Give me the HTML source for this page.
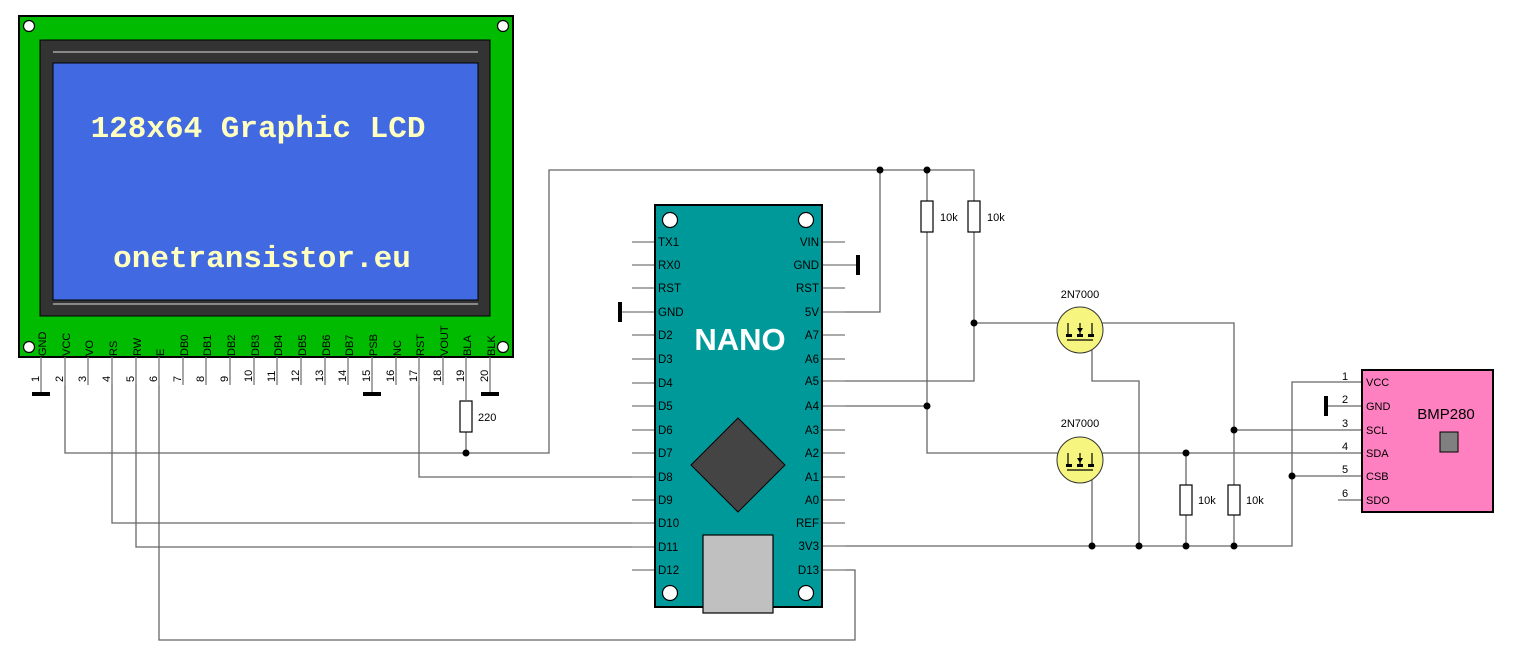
<!DOCTYPE html>
<html><head><meta charset="utf-8"><style>
html,body{margin:0;padding:0;background:#fff}
svg{display:block}
text{font-family:"Liberation Sans",Arial,sans-serif}
</style></head><body>
<svg width="1516" height="668" viewBox="0 0 1516 668" xmlns="http://www.w3.org/2000/svg">
<!-- LCD -->
<rect x="19" y="16" width="494" height="341" fill="#00BB00" stroke="#000" stroke-width="2"/>
<g fill="#fff" stroke="#000" stroke-width="1.2">
<circle cx="29" cy="26" r="5.5"/><circle cx="503" cy="26" r="5.5"/><circle cx="29" cy="347" r="5.5"/><circle cx="503" cy="347" r="5.5"/>
</g>
<rect x="40" y="40" width="450" height="276" fill="#333" stroke="#000" stroke-width="1"/>
<line x1="53" y1="52" x2="478" y2="52" stroke="#888" stroke-width="2"/>
<line x1="53" y1="304" x2="478" y2="304" stroke="#888" stroke-width="2"/>
<rect x="53" y="63" width="425" height="237" fill="#4169E1" stroke="#000" stroke-width="1"/>
<text x="258" y="137" text-anchor="middle" font-family="Liberation Mono,monospace" font-weight="bold" font-size="31" fill="#FFFFC0" style="font-family:'Liberation Mono',monospace">128x64 Graphic LCD</text>
<text x="262" y="267" text-anchor="middle" font-weight="bold" font-size="31" fill="#FFFFC0" style="font-family:'Liberation Mono',monospace">onetransistor.eu</text>

<!-- LCD pins -->
<g stroke="#777" stroke-width="1.3">
<line x1="41" y1="357" x2="41" y2="394"/><line x1="65" y1="357" x2="65" y2="385"/><line x1="88" y1="357" x2="88" y2="385"/><line x1="112" y1="357" x2="112" y2="385"/><line x1="136" y1="357" x2="136" y2="385"/><line x1="159" y1="357" x2="159" y2="385"/><line x1="183" y1="357" x2="183" y2="385"/><line x1="206" y1="357" x2="206" y2="385"/><line x1="230" y1="357" x2="230" y2="385"/><line x1="254" y1="357" x2="254" y2="385"/><line x1="277" y1="357" x2="277" y2="385"/><line x1="301" y1="357" x2="301" y2="385"/><line x1="325" y1="357" x2="325" y2="385"/><line x1="348" y1="357" x2="348" y2="385"/><line x1="372" y1="357" x2="372" y2="394"/><line x1="396" y1="357" x2="396" y2="385"/><line x1="419" y1="357" x2="419" y2="385"/><line x1="443" y1="357" x2="443" y2="385"/><line x1="466" y1="357" x2="466" y2="400"/><line x1="490" y1="357" x2="490" y2="394"/>
</g>
<g stroke="#000" stroke-width="4">
<line x1="32" y1="394" x2="50" y2="394"/><line x1="363" y1="394" x2="381" y2="394"/><line x1="481" y1="394" x2="499" y2="394"/>
</g>
<g font-size="11" fill="#000">
<text transform="translate(46,356) rotate(-90)">GND</text>
<text transform="translate(70,356) rotate(-90)">VCC</text>
<text transform="translate(93,356) rotate(-90)">VO</text>
<text transform="translate(117,356) rotate(-90)">RS</text>
<text transform="translate(141,356) rotate(-90)">RW</text>
<text transform="translate(164,356) rotate(-90)">E</text>
<text transform="translate(188,356) rotate(-90)">DB0</text>
<text transform="translate(211,356) rotate(-90)">DB1</text>
<text transform="translate(235,356) rotate(-90)">DB2</text>
<text transform="translate(259,356) rotate(-90)">DB3</text>
<text transform="translate(282,356) rotate(-90)">DB4</text>
<text transform="translate(306,356) rotate(-90)">DB5</text>
<text transform="translate(330,356) rotate(-90)">DB6</text>
<text transform="translate(353,356) rotate(-90)">DB7</text>
<text transform="translate(377,356) rotate(-90)">PSB</text>
<text transform="translate(401,356) rotate(-90)">NC</text>
<text transform="translate(424,356) rotate(-90)">RST</text>
<text transform="translate(448,356) rotate(-90)">VOUT</text>
<text transform="translate(471,356) rotate(-90)">BLA</text>
<text transform="translate(495,356) rotate(-90)">BLK</text>
</g>
<g font-size="11" fill="#000">
<text transform="translate(39,382) rotate(-90)">1</text>
<text transform="translate(63,382) rotate(-90)">2</text>
<text transform="translate(86,382) rotate(-90)">3</text>
<text transform="translate(110,382) rotate(-90)">4</text>
<text transform="translate(134,382) rotate(-90)">5</text>
<text transform="translate(157,382) rotate(-90)">6</text>
<text transform="translate(181,382) rotate(-90)">7</text>
<text transform="translate(204,382) rotate(-90)">8</text>
<text transform="translate(228,382) rotate(-90)">9</text>
<text transform="translate(252,382) rotate(-90)">10</text>
<text transform="translate(275,382) rotate(-90)">11</text>
<text transform="translate(299,382) rotate(-90)">12</text>
<text transform="translate(323,382) rotate(-90)">13</text>
<text transform="translate(346,382) rotate(-90)">14</text>
<text transform="translate(370,382) rotate(-90)">15</text>
<text transform="translate(394,382) rotate(-90)">16</text>
<text transform="translate(417,382) rotate(-90)">17</text>
<text transform="translate(441,382) rotate(-90)">18</text>
<text transform="translate(464,382) rotate(-90)">19</text>
<text transform="translate(488,382) rotate(-90)">20</text>
</g>

<!-- wires -->
<g fill="none" stroke="#666" stroke-width="1.3">
<polyline points="65,385 65,453 549,453 549,170 974,170 974,381 845,381"/>
<line x1="466" y1="432" x2="466" y2="453"/>
<polyline points="112,385 112,523 632,523"/>
<polyline points="136,385 136,547 632,547"/>
<polyline points="159,385 159,640 855,640 855,570 845,570"/>
<polyline points="419,385 419,477 632,477"/>
<polyline points="845,312 880,312 880,170"/>
<polyline points="927,170 927,453 1362,453"/>
<line x1="845" y1="406" x2="927" y2="406"/>
<polyline points="974,323 1234,323 1234,546"/>
<polyline points="1092,350 1092,381 1139,381 1139,546"/>
<line x1="1092" y1="473" x2="1092" y2="546"/>
<polyline points="845,546 1292,546 1292,382 1362,382"/>
<line x1="1234" y1="430" x2="1362" y2="430"/>
<line x1="1292" y1="476" x2="1362" y2="476"/>
<line x1="1186" y1="453" x2="1186" y2="546"/>
<line x1="1326" y1="406" x2="1362" y2="406"/>
<line x1="1338" y1="500" x2="1362" y2="500"/>
</g>
<!-- resistors -->
<g fill="#fff" stroke="#000" stroke-width="1.2">
<rect x="460" y="401" width="12" height="31"/>
<rect x="921" y="201" width="12" height="31"/>
<rect x="968" y="201" width="12" height="31"/>
<rect x="1180" y="485" width="12" height="30"/>
<rect x="1228" y="485" width="12" height="30"/>
</g>
<g font-size="11" fill="#000">
<text x="478" y="421">220</text>
<text x="940" y="221">10k</text>
<text x="987" y="221">10k</text>
<text x="1198" y="504">10k</text>
<text x="1246" y="504">10k</text>
</g>
<!-- junctions -->
<g fill="#000">
<circle cx="466" cy="453" r="3.5"/><circle cx="880" cy="170" r="3.5"/><circle cx="927" cy="170" r="3.5"/>
<circle cx="974" cy="323" r="3.5"/><circle cx="927" cy="406" r="3.5"/>
<circle cx="1186" cy="453" r="3.5"/><circle cx="1234" cy="430" r="3.5"/><circle cx="1292" cy="476" r="3.5"/>
<circle cx="1092" cy="546" r="3.5"/><circle cx="1139" cy="546" r="3.5"/><circle cx="1186" cy="546" r="3.5"/><circle cx="1234" cy="546" r="3.5"/>
</g>

<!-- MOSFETs -->
<g>
<circle cx="1080" cy="330" r="23" fill="#F5F580" stroke="#333" stroke-width="1"/>
<g stroke="#000" stroke-width="1.2" fill="none"><polyline points="1068,323 1068,336"/><polyline points="1092,323 1092,336"/><line x1="1080" y1="323" x2="1080" y2="336"/><line x1="1067" y1="340" x2="1093" y2="340"/></g>
<g fill="#000"><rect x="1066" y="334" width="6" height="3"/><rect x="1077" y="334" width="6" height="3"/><rect x="1088" y="334" width="6" height="3"/><polygon points="1077,328 1083,328 1080,333"/></g>
<text x="1080" y="298" text-anchor="middle" font-size="11">2N7000</text>
<circle cx="1080" cy="460" r="23" fill="#F5F580" stroke="#333" stroke-width="1"/>
<g stroke="#000" stroke-width="1.2" fill="none"><polyline points="1068,453 1068,466"/><polyline points="1092,453 1092,466"/><line x1="1080" y1="453" x2="1080" y2="466"/><line x1="1067" y1="470" x2="1093" y2="470"/></g>
<g fill="#000"><rect x="1066" y="464" width="6" height="3"/><rect x="1077" y="464" width="6" height="3"/><rect x="1088" y="464" width="6" height="3"/><polygon points="1077,458 1083,458 1080,463"/></g>
<text x="1080" y="427" text-anchor="middle" font-size="11">2N7000</text>
</g>

<!-- NANO -->
<g stroke="#777" stroke-width="1.3">
<line x1="632" y1="242" x2="655" y2="242"/><line x1="632" y1="265" x2="655" y2="265"/><line x1="632" y1="288" x2="655" y2="288"/><line x1="620" y1="312" x2="655" y2="312"/><line x1="632" y1="335" x2="655" y2="335"/><line x1="632" y1="359" x2="655" y2="359"/><line x1="632" y1="383" x2="655" y2="383"/><line x1="632" y1="406" x2="655" y2="406"/><line x1="632" y1="430" x2="655" y2="430"/><line x1="632" y1="453" x2="655" y2="453"/><line x1="632" y1="477" x2="655" y2="477"/><line x1="632" y1="500" x2="655" y2="500"/><line x1="632" y1="523" x2="655" y2="523"/><line x1="632" y1="547" x2="655" y2="547"/><line x1="632" y1="570" x2="655" y2="570"/>
<line x1="822" y1="242" x2="845" y2="242"/><line x1="822" y1="265" x2="858" y2="265"/><line x1="822" y1="288" x2="845" y2="288"/><line x1="822" y1="312" x2="845" y2="312"/><line x1="822" y1="335" x2="845" y2="335"/><line x1="822" y1="359" x2="845" y2="359"/><line x1="822" y1="381" x2="845" y2="381"/><line x1="822" y1="406" x2="845" y2="406"/><line x1="822" y1="430" x2="845" y2="430"/><line x1="822" y1="453" x2="845" y2="453"/><line x1="822" y1="477" x2="845" y2="477"/><line x1="822" y1="500" x2="845" y2="500"/><line x1="822" y1="523" x2="845" y2="523"/><line x1="822" y1="546" x2="845" y2="546"/><line x1="822" y1="570" x2="845" y2="570"/>
</g>
<g stroke="#000" stroke-width="4"><line x1="620" y1="302" x2="620" y2="322"/><line x1="858" y1="255" x2="858" y2="275"/><line x1="1326" y1="396" x2="1326" y2="416"/></g>
<rect x="655" y="205" width="167" height="402" fill="#00999A" stroke="#000" stroke-width="2"/>
<g fill="#fff" stroke="#000" stroke-width="1.2">
<circle cx="670" cy="220" r="7.5"/><circle cx="806" cy="220" r="7.5"/><circle cx="670" cy="593" r="7.5"/><circle cx="806" cy="593" r="7.5"/>
</g>
<text x="740" y="350" text-anchor="middle" font-size="31" font-weight="bold" fill="#fff">NANO</text>
<polygon points="738,418 785,465 738,512 691,465" fill="#444" stroke="#000" stroke-width="1"/>
<rect x="703" y="535" width="70" height="78" fill="#C0C0C0" stroke="#000" stroke-width="1.2"/>
<g font-size="11.5" fill="#000">
<text x="658" y="246">TX1</text><text x="658" y="269">RX0</text><text x="658" y="292">RST</text><text x="658" y="316">GND</text><text x="658" y="339">D2</text><text x="658" y="363">D3</text><text x="658" y="387">D4</text><text x="658" y="410">D5</text><text x="658" y="434">D6</text><text x="658" y="457">D7</text><text x="658" y="481">D8</text><text x="658" y="504">D9</text><text x="658" y="527">D10</text><text x="658" y="551">D11</text><text x="658" y="574">D12</text>
</g>
<g font-size="11.5" fill="#000" text-anchor="end">
<text x="819" y="246">VIN</text><text x="819" y="269">GND</text><text x="819" y="292">RST</text><text x="819" y="316">5V</text><text x="819" y="339">A7</text><text x="819" y="363">A6</text><text x="819" y="385">A5</text><text x="819" y="410">A4</text><text x="819" y="434">A3</text><text x="819" y="457">A2</text><text x="819" y="481">A1</text><text x="819" y="504">A0</text><text x="819" y="527">REF</text><text x="819" y="550">3V3</text><text x="819" y="574">D13</text>
</g>

<!-- BMP280 -->
<rect x="1362" y="370" width="131" height="142" fill="#FF80C0" stroke="#000" stroke-width="2"/>
<text x="1446" y="419" text-anchor="middle" font-size="15">BMP280</text>
<rect x="1440" y="432" width="18" height="20" fill="#808080" stroke="#000" stroke-width="1"/>
<g font-size="11" fill="#000">
<text x="1366" y="386">VCC</text><text x="1366" y="410">GND</text><text x="1366" y="434">SCL</text><text x="1366" y="457">SDA</text><text x="1366" y="480">CSB</text><text x="1366" y="504">SDO</text>
<text x="1342" y="380">1</text><text x="1342" y="403">2</text><text x="1342" y="427">3</text><text x="1342" y="450">4</text><text x="1342" y="473">5</text><text x="1342" y="497">6</text>
</g>
</svg>
</body></html>
